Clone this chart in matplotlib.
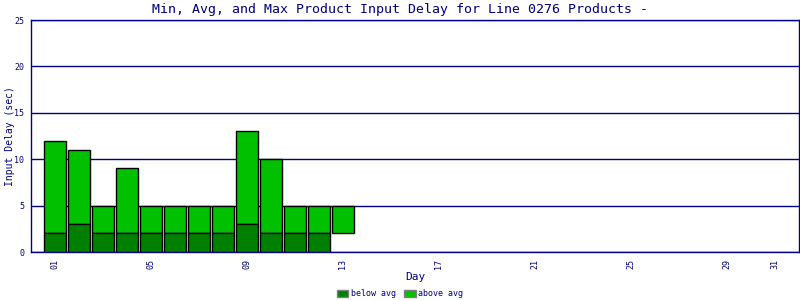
import matplotlib.pyplot as plt
from matplotlib.patches import Patch

days = list(range(1, 14))
min_delay = [2, 3, 2, 2, 2, 2, 2, 2, 3, 2, 2, 2, 2]
max_delay = [12, 11, 5, 9, 5, 5, 5, 5, 13, 10, 5, 5, 5]
# dark "below avg" segment (day 13 has none drawn)
below_avg = [2, 3, 2, 2, 2, 2, 2, 2, 3, 2, 2, 2, 0]
tick_days = [1, 5, 9, 13, 17, 21, 25, 29, 31]

navy = '#000080'
dark = '#007f00'
light = '#00c000'

plt.rcParams['font.family'] = 'DejaVu Sans Mono'

fig = plt.figure(figsize=(8, 3), dpi=100)
ax = fig.add_axes([31/800, 48/300, 768/800, 232/300])

above_h = [mx - mn for mx, mn in zip(max_delay, min_delay)]
ax.bar(days, above_h, bottom=min_delay, width=0.92, color=light,
       edgecolor='black', linewidth=1, zorder=3)
bd = [d for d, b in zip(days, below_avg) if b > 0]
bv = [b for b in below_avg if b > 0]
ax.bar(bd, bv, width=0.92, color=dark, edgecolor='black', linewidth=1, zorder=3)

ax.set_xlim(0, 32)
ax.set_ylim(0, 25)
ax.set_yticks([0, 5, 10, 15, 20, 25])
ax.set_xticks(tick_days)
ax.set_xticklabels(['%02d' % d for d in tick_days], rotation=90)
ax.tick_params(axis='both', length=0, labelsize=6, colors=navy, pad=5)
ax.grid(axis='y', color=navy, linewidth=1, zorder=1)
for s in ax.spines.values():
    s.set_color(navy)
    s.set_linewidth(1)

ax.set_xlabel('Day', color=navy, fontsize=8, labelpad=2)
ax.set_ylabel('Input Delay (sec)', color=navy, fontsize=7)
ax.yaxis.set_label_coords(-0.021, 0.5)
fig.text(0.5, 0.97, 'Min, Avg, and Max Product Input Delay for Line 0276 Products -',
         ha='center', va='center', color=navy, fontsize=9.5)

handles = [Patch(facecolor=dark, edgecolor='gray', label='below avg'),
           Patch(facecolor=light, edgecolor='gray', label='above avg')]
leg = fig.legend(handles=handles, loc='center', bbox_to_anchor=(0.5, 0.02), ncol=2,
                 frameon=False, fontsize=6, handlelength=1.4, handleheight=0.9,
                 handletextpad=0.3, columnspacing=1.0, borderpad=0)
for t in leg.get_texts():
    t.set_color(navy)

fig.savefig('out.png', dpi=100)
